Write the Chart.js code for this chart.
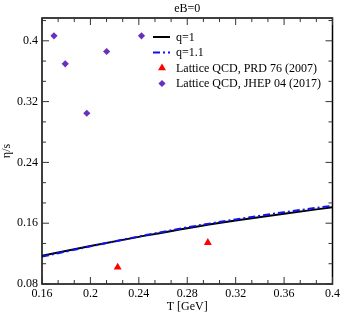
<!DOCTYPE html>
<html>
<head>
<meta charset="utf-8">
<script src="https://cdn.jsdelivr.net/npm/chart.js@4/dist/chart.umd.min.js"></script>
<style>
html,body{margin:0;padding:0;background:#fff;}
#wrap{width:343px;height:314px;}
</style>
</head>
<body>
<div id="wrap"><canvas id="c" width="343" height="314"></canvas></div>
<script>
// ---- data ----
const titleText = "eB=0";
const xTitle = "T [GeV]";
const yTitle = "η/s";
const xTicks = [0.16, 0.2, 0.24, 0.28, 0.32, 0.36, 0.4];
const yTicks = [0.08, 0.16, 0.24, 0.32, 0.4];
const curveT = [0.16, 0.2, 0.24, 0.28, 0.32, 0.36, 0.4];
const q1 = [0.117, 0.130, 0.142, 0.1535, 0.1635, 0.1725, 0.181];
const q11 = [0.116, 0.1295, 0.1425, 0.1545, 0.165, 0.1745, 0.183];
const prdT = [0.2225, 0.297];
const prdEta = [0.102, 0.1345];
const jhepT = [0.1699, 0.1792, 0.197, 0.2134, 0.2422];
const jhepEta = [0.4066, 0.3697, 0.3047, 0.3859, 0.4066];
const labels = ["q=1", "q=1.1", "Lattice QCD, PRD 76 (2007)", "Lattice QCD, JHEP 04 (2017)"];

const FONT = "'Liberation Serif', 'Times New Roman', serif";
const purple = "#6b2fbf";

const pts = (xs, ys) => xs.map((x, i) => ({x: x, y: ys[i]}));

const framePlugin = {
  id: 'frame',
  afterDraw(chart) {
    const {ctx, chartArea: a, scales: {x, y}} = chart;
    ctx.save();
    ctx.strokeStyle = '#000';
    ctx.lineWidth = 1.5;
    ctx.strokeRect(a.left, a.top, a.right - a.left, a.bottom - a.top);
    ctx.lineWidth = 1;
    ctx.strokeStyle = '#333';
    for (let i = 0; i < xTicks.length; i++) {
      const v0 = xTicks[i];
      const px = x.getPixelForValue(v0);
      ctx.beginPath();
      ctx.moveTo(px, a.bottom); ctx.lineTo(px, a.bottom - 7);
      ctx.moveTo(px, a.top); ctx.lineTo(px, a.top + 7);
      ctx.stroke();
      if (i < xTicks.length - 1) {
        const step = (xTicks[i+1] - v0) / 3;
        for (let k = 1; k < 3; k++) {
          const p = x.getPixelForValue(v0 + k * step);
          ctx.beginPath();
          ctx.moveTo(p, a.bottom); ctx.lineTo(p, a.bottom - 4);
          ctx.moveTo(p, a.top); ctx.lineTo(p, a.top + 4);
          ctx.stroke();
        }
      }
    }
    const ystep = (yTicks[1] - yTicks[0]) / 3;
    for (let v = yTicks[0], n = 0; v <= y.max + 1e-9; v += ystep, n++) {
      const py = y.getPixelForValue(v);
      const len = (n % 3 === 0) ? 7 : 4;
      ctx.beginPath();
      ctx.moveTo(a.left, py); ctx.lineTo(a.left + len, py);
      ctx.moveTo(a.right, py); ctx.lineTo(a.right - len, py);
      ctx.stroke();
    }
    ctx.fillStyle = '#000';
    ctx.font = "12px " + FONT;
    ctx.textAlign = 'center';
    ctx.textBaseline = 'middle';
    ctx.fillText(titleText, (a.left + a.right) / 2, 9);
    // legend
    const lx = a.left + 111, tx = a.left + 134;
    const ly = a.top + 19;
    const rowH = 15.5;
    ctx.textAlign = 'left';
    chart.data.datasets.forEach((ds, i) => {
      const cy = ly + i * rowH;
      if (ds.showLine) {
        ctx.save();
        ctx.strokeStyle = ds.borderColor;
        ctx.lineWidth = ds.borderWidth;
        ctx.setLineDash(ds.borderDash || []);
        ctx.beginPath();
        ctx.moveTo(lx, cy); ctx.lineTo(lx + 17, cy);
        ctx.stroke();
        ctx.restore();
      } else {
        ctx.save();
        ctx.fillStyle = ds.backgroundColor;
        ctx.strokeStyle = ds.borderColor;
        Chart.helpers.drawPoint(ctx, {pointStyle: ds.pointStyle, radius: ds.pointRadius, borderWidth: 0, rotation: 0}, a.left + 120, cy);
        ctx.restore();
      }
      ctx.fillStyle = '#000';
      ctx.fillText(ds.label, tx, cy + 0.5);
    });
    ctx.restore();
  }
};

const chart = new Chart(document.getElementById('c'), {
  type: 'scatter',
  data: {
    datasets: [
      {label: labels[0], data: pts(curveT, q1), showLine: true, borderColor: '#000', backgroundColor: '#000', borderWidth: 2, pointRadius: 0, tension: 0.4, cubicInterpolationMode: 'monotone', order: 2},
      {label: labels[1], data: pts(curveT, q11), showLine: true, borderColor: '#1010f0', backgroundColor: '#1010f0', borderWidth: 2, borderDash: [7, 3, 2, 3], pointRadius: 0, tension: 0.4, cubicInterpolationMode: 'monotone', order: 1},
      {label: labels[2], data: pts(prdT, prdEta), showLine: false, pointStyle: 'triangle', pointRadius: 4.6, borderWidth: 0, borderColor: '#ff0000', backgroundColor: '#ff0000'},
      {label: labels[3], data: pts(jhepT, jhepEta), showLine: false, pointStyle: 'rectRot', pointRadius: 3.6, borderWidth: 0, borderColor: purple, backgroundColor: purple}
    ]
  },
  options: {
    responsive: false,
    animation: false,
    devicePixelRatio: 1,
    layout: {padding: {top: 18, right: 9, left: 0, bottom: 0}},
    plugins: {legend: {display: false}, title: {display: false}, tooltip: {enabled: false}},
    scales: {
      x: {
        type: 'linear', min: 0.16, max: 0.4,
        afterFit: s => { s.height = 30; },
        afterBuildTicks: s => { s.ticks = xTicks.map(v => ({value: v})); },
        grid: {display: false, drawTicks: false},
        border: {display: false},
        ticks: {color: '#000', padding: 3, font: {family: FONT, size: 12}, maxRotation: 0, autoSkip: false,
          callback: v => String(+v.toFixed(2))},
        title: {display: true, text: xTitle, color: '#000', font: {family: FONT, size: 12}, padding: {top: 0, bottom: 0}}
      },
      y: {
        type: 'linear', min: 0.08, max: 0.43,
        afterFit: s => { s.width = 42; },
        afterBuildTicks: s => { s.ticks = yTicks.map(v => ({value: v})); },
        grid: {display: false, drawTicks: false},
        border: {display: false},
        ticks: {color: '#000', padding: 4, font: {family: FONT, size: 12}, autoSkip: false,
          callback: v => String(+v.toFixed(2))},
        title: {display: true, text: yTitle, color: '#000', font: {family: FONT, size: 12}, padding: {top: 0, bottom: 0}}
      }
    }
  },
  plugins: [framePlugin]
});
</script>
</body>
</html>
